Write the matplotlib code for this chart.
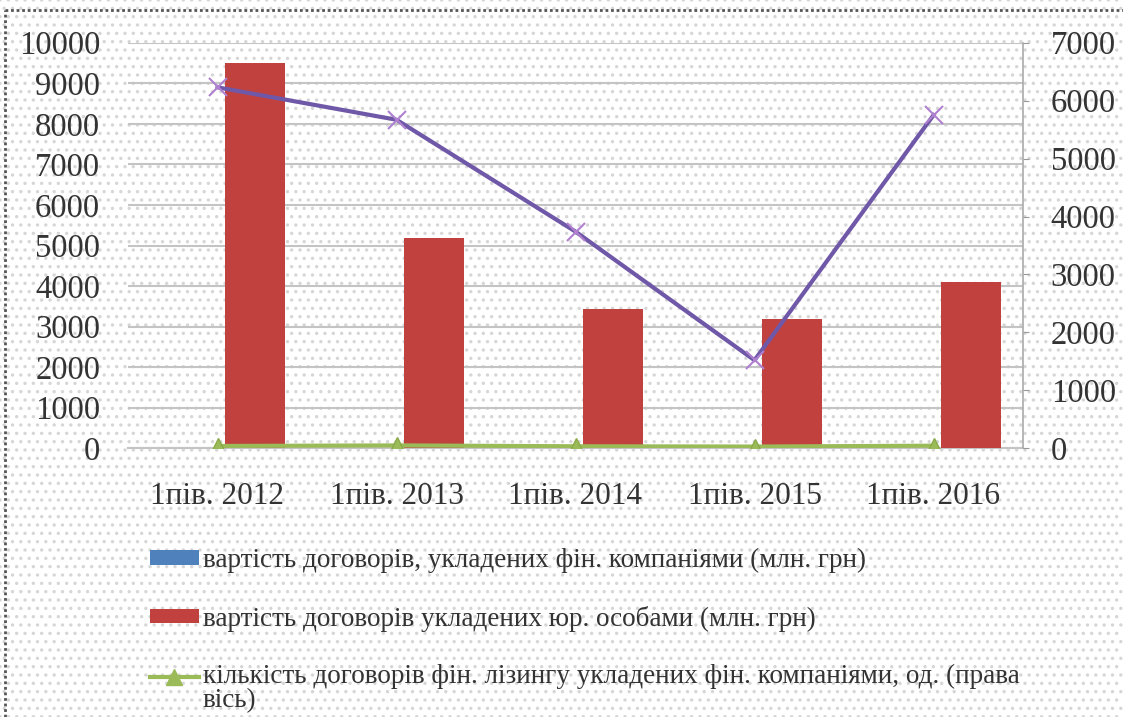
import matplotlib
matplotlib.use("Agg")
import matplotlib.pyplot as plt
import numpy as np
from matplotlib.patches import Rectangle, Patch
from matplotlib.lines import Line2D
from matplotlib.legend_handler import HandlerLine2D

categories = ["1пів. 2012", "1пів. 2013", "1пів. 2014", "1пів. 2015", "1пів. 2016"]
fin_companies_value = [15, 5, 5, 5, 5]              # млн грн (left axis)
legal_entities_value = [9500, 5180, 3430, 3200, 4090]  # млн грн (left axis)
fin_companies_count = [40, 50, 35, 30, 45]          # од. (right axis)
legal_entities_count = [6230, 5670, 3740, 1520, 5750]  # од. (right axis)

labels = [
    "вартість договорів, укладених фін. компаніями (млн. грн)",
    "вартість договорів укладених юр. особами (млн. грн)",
    "кількість договорів фін. лізингу укладених фін. компаніями, од. (права\nвісь)",
]

plt.rcParams['font.family'] = ['Liberation Serif', 'DejaVu Serif']
plt.rcParams['hatch.linewidth'] = 1.2

W, H = 1123, 717
fig = plt.figure(figsize=(W / 100, H / 100), dpi=100)
fig.patch.set_facecolor("white")

# dotted background
bg = Rectangle((0, 0), 1, 1, transform=fig.transFigure, facecolor="white",
               edgecolor="#d6d6d6", hatch="..", linewidth=0, zorder=-10)
fig.add_artist(bg)
# border (top and left)
fig.add_artist(Line2D([5 / W, 5 / W], [0, 1 - 10 / H], transform=fig.transFigure,
                      color="#555555", lw=2, ls=(0, (1, 1))))
fig.add_artist(Line2D([5 / W, 1], [1 - 10 / H, 1 - 10 / H], transform=fig.transFigure,
                      color="#555555", lw=2, ls=(0, (1, 1))))

left, right = 128 / W, 1023 / W
top, bottom = 1 - 42.7 / H, 1 - 448.3 / H
ax = fig.add_axes([left, bottom, right - left, top - bottom])
ax.set_facecolor("none")
ax2 = ax.twinx()
ax2.set_facecolor("none")

x = np.arange(len(categories))
bw = 0.335
ax.bar(x - 0.207, fin_companies_value, width=bw, color="#4F81BD", zorder=3)
ax.bar(x + 0.207, legal_entities_value, width=bw, color="#C0413D", zorder=3)

ax2.plot(x, legal_entities_count, color="#7058A8", lw=3, marker="x",
         markersize=13, markeredgecolor="#B080D0", markeredgewidth=1.5, zorder=4)
ax2.plot(x, fin_companies_count, color="#9BBB59", lw=3, marker="^",
         markersize=12, markerfacecolor="#9BBB59", markeredgecolor="#8AAA48", zorder=4)

ax.set_xlim(-0.5, len(categories) - 0.5)
ax.set_ylim(0, 10000)
ax.set_yticks(np.arange(0, 10001, 1000))
ax2.set_ylim(0, 7000)
ax2.set_yticks(np.arange(0, 7001, 1000))

ax.set_xticks(x)
ax.set_xticklabels(categories)
ax.tick_params(axis="x", length=0, pad=24, labelsize=22.5, colors="#333333")
ax.tick_params(axis="y", length=0, pad=20, labelsize=23.5, colors="#333333")
ax2.tick_params(axis="y", length=4, pad=16, labelsize=23.5, colors="#333333",
                color="#999999", direction="out")

ax.grid(axis="y", color="#c4c4c4", lw=1.5, zorder=0)
ax.set_axisbelow(True)
for sp in ["top", "left", "right"]:
    ax.spines[sp].set_visible(False)
ax.spines["bottom"].set_color("#c4c4c4")
ax.spines["bottom"].set_linewidth(1.5)
for sp in ["top", "left", "bottom"]:
    ax2.spines[sp].set_visible(False)
ax2.spines["right"].set_color("#aaaaaa")
ax2.spines["right"].set_linewidth(1.2)


class HandlerTopLine(HandlerLine2D):
    def create_artists(self, legend, orig_handle, xdescent, ydescent, width,
                       height, fontsize, trans):
        arts = super().create_artists(legend, orig_handle, xdescent, ydescent,
                                      width, height, fontsize, trans)
        for a in arts:
            a.set_ydata(np.asarray(a.get_ydata(), dtype=float) + 9.0)
        return arts


green_handle = Line2D([], [], color="#9BBB59", lw=3, marker="^", markersize=12)
handles = [
    Patch(facecolor="#4F81BD"),
    Patch(facecolor="#C0413D"),
    green_handle,
]
leg = fig.legend(handles, labels, loc="upper left",
                 bbox_to_anchor=(150 / W, 1 - 548 / H), frameon=False,
                 fontsize=19.5, labelspacing=1.2, handlelength=1.8,
                 handleheight=0.45, handletextpad=0.15, borderaxespad=0,
                 borderpad=0, handler_map={green_handle: HandlerTopLine()})
for t in leg.get_texts():
    t.set_color("#333333")
    t.set_linespacing(0.95)

fig.savefig("out.png", dpi=100)
